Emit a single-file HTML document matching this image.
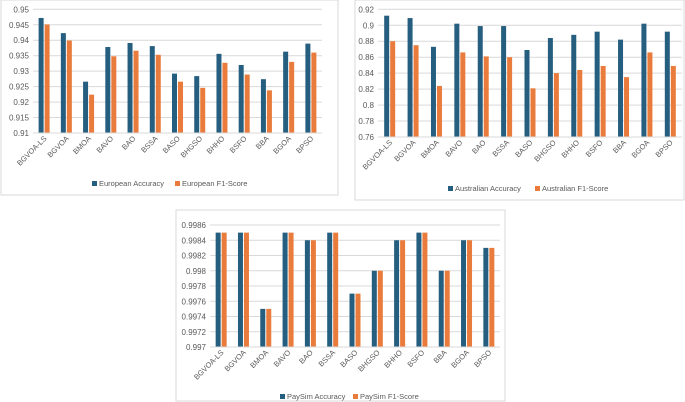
<!DOCTYPE html>
<html><head><meta charset="utf-8"><style>
body{margin:0;background:#fff;width:685px;height:402px;overflow:hidden;font-family:"Liberation Sans",sans-serif}
svg{display:block}
</style></head><body>
<svg id="s" width="685" height="402"></svg>
<script>
const categories=["BGVOA-LS","BGVOA","BMOA","BAVO","BAO","BSSA","BASO","BHGSO","BHHO","BSFO","BBA","BGOA","BPSO"];
const euAcc=[0.9472,0.9423,0.9266,0.9378,0.9391,0.9381,0.9292,0.9284,0.9356,0.9320,0.9274,0.9363,0.9389];
const euF1=[0.9451,0.9399,0.9224,0.9348,0.9366,0.9353,0.9266,0.9246,0.9327,0.9289,0.9238,0.9330,0.9360];
const auAcc=[0.912,0.909,0.873,0.902,0.899,0.899,0.869,0.884,0.888,0.892,0.882,0.902,0.892];
const auF1=[0.880,0.875,0.824,0.866,0.861,0.860,0.821,0.840,0.844,0.849,0.835,0.866,0.849];
const psAcc=[0.9985,0.9985,0.9975,0.9985,0.9984,0.9985,0.9977,0.9980,0.9984,0.9985,0.9980,0.9984,0.9983];
const psF1=[0.9985,0.9985,0.9975,0.9985,0.9984,0.9985,0.9977,0.9980,0.9984,0.9985,0.9980,0.9984,0.9983];
const euTicks=["0.91","0.915","0.92","0.925","0.93","0.935","0.94","0.945","0.95"];
const auTicks=["0.76","0.78","0.8","0.82","0.84","0.86","0.88","0.9","0.92"];
const psTicks=["0.997","0.9972","0.9974","0.9976","0.9978","0.998","0.9982","0.9984","0.9986"];
const NS="http://www.w3.org/2000/svg";
const svg=document.getElementById('s');
function mk(t,a,p){const e=document.createElementNS(NS,t);for(const k in a)e.setAttribute(k,a[k]);(p||svg).appendChild(e);return e;}
function chart(cfg){
  const g=mk('g',{});
  
  
  const b=mk('rect',{x:cfg.box[0],y:cfg.box[1],width:cfg.box[2],height:cfg.box[3],fill:'none',stroke:'#d9d9d9','stroke-width':1},g);
  
  
  const ticks=cfg.ticks.map(Number);
  const ymin=ticks[0],ymax=ticks[ticks.length-1];
  const y=v=>cfg.y1+(ymax-v)/(ymax-ymin)*(cfg.y0-cfg.y1);
  const bw=(cfg.x1-cfg.x0)/categories.length;
  const xc=i=>cfg.x0+bw*(i+0.5);
  cfg.ticks.forEach((t,i)=>{
    const yy=y(ticks[i]);
    const l=mk('line',{x1:cfg.x0,x2:cfg.x1,y1:yy,y2:yy,stroke:'#d9d9d9','stroke-width':1},g);
    
    
    const tx=mk('text',{x:cfg.x0-4,y:yy+3,'font-size':8,fill:'#595959','text-anchor':'end'},g);
    tx.textContent=t;
    
    
  });
  const w=5;
  categories.forEach((c,i)=>{
    const r1=mk('rect',{x:xc(i)-w-0.5,y:y(cfg.a[i]),width:w,height:cfg.y0-y(cfg.a[i]),fill:'#255e7e'},g);
    
    
    const r2=mk('rect',{x:xc(i)+0.5,y:y(cfg.f[i]),width:w,height:cfg.y0-y(cfg.f[i]),fill:'#e97c3c'},g);
    
    
    const tx=mk('text',{x:xc(i)+3,y:cfg.y0+6,'font-size':7.5,fill:'#595959','text-anchor':'end',transform:`rotate(-45 ${xc(i)+3} ${cfg.y0+6})`},g);
    tx.textContent=c;
    
    
  });
  const ax=mk('line',{x1:cfg.x0,x2:cfg.x1,y1:cfg.y0,y2:cfg.y0,stroke:'#d9d9d9'},g);
  
  
  const lx=cfg.legend[0],ly=cfg.legend[1];
  const s1=mk('rect',{x:lx,y:ly-5,width:5,height:5,fill:'#255e7e'},g);
  
  
  const t1=mk('text',{x:lx+7,y:ly,'font-size':7.5,fill:'#595959'},g);
  t1.textContent=cfg.lab[0];
  
  
  const s2=mk('rect',{x:cfg.legend[2],y:ly-5,width:5,height:5,fill:'#e97c3c'},g);
  
  
  const t2=mk('text',{x:cfg.legend[2]+7,y:ly,'font-size':7.5,fill:'#595959'},g);
  t2.textContent=cfg.lab[1];
  
  
}
chart({name:'european-chart',box:[1,0,337,195],x0:33,x1:322,y0:133,y1:9.3,ticks:euTicks,a:euAcc,f:euF1,legend:[92,186,175],lab:['European Accuracy','European F1-Score']});
chart({name:'australian-chart',box:[355,0,329,200],x0:378,x1:682,y0:137,y1:9.3,ticks:auTicks,a:auAcc,f:auF1,legend:[448,191,535],lab:['Australian Accuracy','Australian F1-Score']});
chart({name:'paysim-chart',box:[176,210,329,191],x0:210,x1:500,y0:347,y1:225,ticks:psTicks,a:psAcc,f:psF1,legend:[280,399,353],lab:['PaySim Accuracy','PaySim F1-Score']});
</script>
</body></html>
